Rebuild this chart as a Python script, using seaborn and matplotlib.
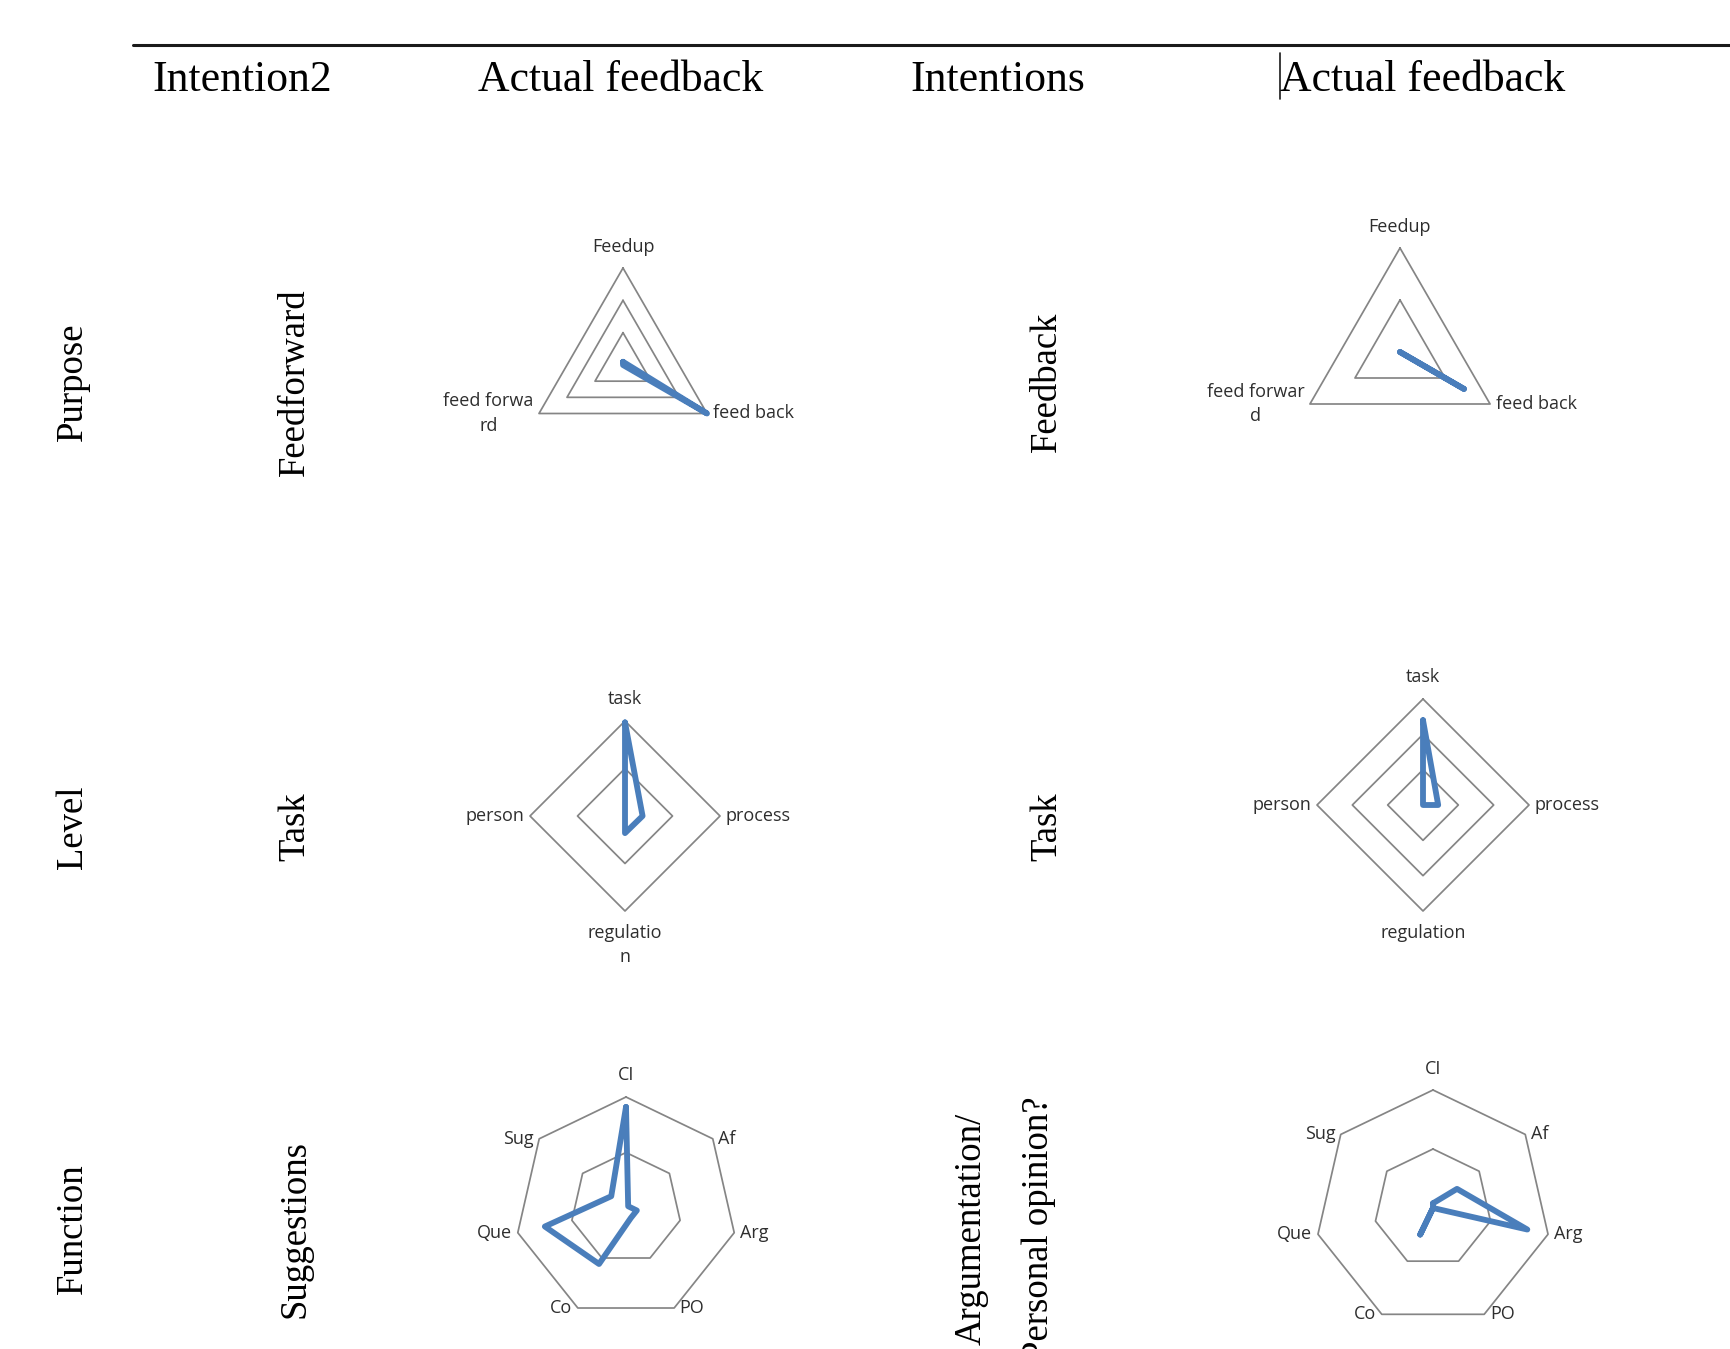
import numpy as np
import pandas as pd
import matplotlib
matplotlib.use("Agg")
import matplotlib.pyplot as plt
import seaborn as sns

# table texts
headers = ["Intention2", "Actual feedback", "Intentions", "Actual feedback"]
row_labels = ["Purpose", "Level", "Function"]
intention2 = ["Feedforward", "Task", "Suggestions"]
intentions = ["Feedback", "Task", "Argumentation/\nPersonal opinion?"]

# radar data
purpose_left_labels = ["Feedup", "feed back", "feed forwa\nrd"]
purpose_right_labels = ["Feedup", "feed back", "feed forwar\nd"]
purpose_left = [0.1, 3.0, 0.0]
purpose_right = [0.0, 1.42, 0.0]

level_left_labels = ["task", "process", "regulatio\nn", "person"]
level_right_labels = ["task", "process", "regulation", "person"]
level_left = [1.97, 0.37, 0.36, 0.0]
level_right = [2.4, 0.43, 0.0, 0.0]

function_labels = ["CI", "Af", "Arg", "PO", "Co", "Que", "Sug"]
function_left = [1.82, 0.05, 0.2, 0.2, 1.12, 1.5, 0.34]
function_right = [0.08, 0.52, 1.64, 0.0, 0.5, 0.0, 0.0]

W, H = 1730, 1349
BLUE = "#4a7ebb"
GRID = "#858585"

sns.set_theme(style="white")
plt.rcParams["font.family"] = ["Open Sans", "DejaVu Sans"]

fig = plt.figure(figsize=(W / 100, H / 100), dpi=100)
fig.patch.set_facecolor("white")

# background axes in pixel units for the table texts
bg = fig.add_axes([0, 0, 1, 1])
bg.set_xlim(0, W)
bg.set_ylim(H, 0)
bg.axis("off")

bg.plot([133, W], [45, 45], color="#1a1a1a", lw=2.2)
bg.plot([1280, 1280], [53, 99], color="#1a1a1a", lw=1.2)

serif = "Liberation Serif"
for x, t in zip([152, 478, 910, 1280], headers):
    bg.text(x, 80, t, family=serif, fontsize=31.5, ha="left", va="center", color="black")

row_y = [382, 827, 1229]
for y, t in zip(row_y, row_labels):
    bg.text(73, y, t, family=serif, fontsize=26.5, rotation=90, ha="center", va="center",
            color="black")
for y, t in zip(row_y, intention2):
    bg.text(295, y, t, family=serif, fontsize=26.5, rotation=90, ha="center", va="center",
            color="black")
for y, t in zip(row_y[:2], intentions[:2]):
    bg.text(1047, y, t, family=serif, fontsize=26.5, rotation=90, ha="center", va="center",
            color="black")
bg.text(1005, 1229, intentions[2], family=serif, fontsize=26.5, rotation=90, color="black",
        ha="center", va="center", linespacing=2.25, multialignment="center")


def radar(cx, cy, R, labels, values, rings):
    rmax = rings[-1]
    k = 1.75
    half = k * R
    ax = fig.add_axes([(cx - half) / W, 1 - (cy + half) / H, 2 * half / W, 2 * half / H])
    ax.set_xlim(-k * rmax, k * rmax)
    ax.set_ylim(-k * rmax, k * rmax)
    ax.axis("off")

    n = len(labels)
    ang = np.arange(n) * 2 * np.pi / n
    closed = np.append(ang, ang[0])
    for r in rings:
        ax.plot(r * np.sin(closed), r * np.cos(closed), color=GRID, lw=1.25, zorder=1)

    vals = np.append(values, values[0])
    df = pd.DataFrame({"x": vals * np.sin(closed), "y": vals * np.cos(closed)})
    sns.lineplot(data=df, x="x", y="y", sort=False, estimator=None, color=BLUE,
                 lw=4.2, ax=ax, zorder=3, solid_joinstyle="round", solid_capstyle="round")
    ax.set_xlabel("")
    ax.set_ylabel("")

    for a, lab in zip(ang, labels):
        sx, cy_ = np.sin(a), np.cos(a)
        if abs(sx) < 0.1:
            ha = "center"
            va = "bottom" if cy_ > 0 else "top"
            off = (0, 9 if cy_ > 0 else -9)
        elif sx > 0:
            ha, va, off = "left", "center", (4, 0)
        else:
            ha, va, off = "right", "center", (-4, 0)
        ax.annotate(lab, (rmax * sx, rmax * cy_), xytext=off, textcoords="offset points",
                    ha=ha, va=va, fontsize=13, color="#2e2e2e", linespacing=1.45,
                    multialignment="center", annotation_clip=False)


radar(623, 365, 97, purpose_left_labels, purpose_left, [1, 2, 3])
radar(1400, 352, 104, purpose_right_labels, purpose_right, [1, 2])
radar(625, 816, 95, level_left_labels, level_left, [1, 2])
radar(1423, 805, 106, level_right_labels, level_right, [1, 2, 3])
radar(626, 1208, 111, function_labels, function_left, [1, 2])
radar(1433, 1208, 118, function_labels, function_right, [1, 2])

fig.savefig("out.png", dpi=100, facecolor="white")
